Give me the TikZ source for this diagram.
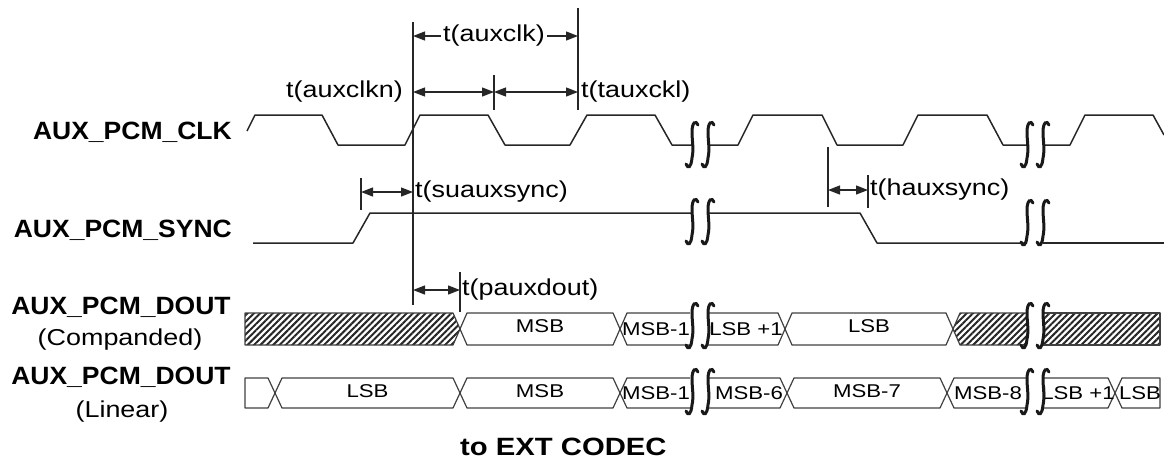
\documentclass[tikz,border=0pt]{standalone}
\usepackage{fontspec}
\setmainfont{Liberation Sans}[FakeStretch=1.06]
\newfontfamily\tfont{Liberation Sans}[FakeStretch=1.17]
\newfontfamily\bfont{Liberation Sans}[FakeStretch=1.2]
\usetikzlibrary{arrows.meta,patterns.meta,positioning}

% pair of break marks at x=#1, centre y=#2
\newcommand{\brkpair}[2]{%
  \foreach \dx in {0,16}{
    \draw[squig,shift={(#1+\dx,#2)}] (6,-20) .. controls (4,-25) and (0,-23) .. (0,-13)
      .. controls (0,-4) and (2,4) .. (0,13) .. controls (-1,23) and (-4,24) .. (-6,19);
  }}

\begin{document}
\begin{tikzpicture}[x=1pt,y=-1pt,
    tip/.tip={Triangle[length=12pt,width=9pt]},
    wave/.style={draw=black!85, line width=1.5pt, line join=round},
    vmark/.style={draw=black!85, line width=1.3pt},
    dim/.style={draw=black!85, line width=1.3pt},
    squig/.style={draw=black!90, line width=3pt, line cap=round},
    bus/.style={draw=black!75, line width=1.2pt, line join=round},
    hatch/.style={bus, pattern={Lines[angle=45,distance=4.5pt,line width=2pt]}, pattern color=black!85},
    lbl/.style={font=\fontsize{25}{28}\selectfont\bfseries, inner sep=0pt},
    sub/.style={font=\fontsize{23}{26}\selectfont\tfont, inner sep=0pt},
    ttxt/.style={font=\fontsize{23}{26}\selectfont\tfont, inner sep=2pt},
    btxt/.style={font=\fontsize{18.5}{20}\selectfont\bfont, inner sep=0pt},
  ]
  \useasboundingbox (0,0) rectangle (1164,459);

  %Signal names
  \node[lbl, anchor=east] (clkname)  at (232,132) {AUX\_PCM\_CLK};
  \node[lbl, anchor=east] (syncname) at (232,230) {AUX\_PCM\_SYNC};
  \node[lbl] (doutc) at (121,307) {AUX\_PCM\_DOUT};
  \node[sub] (compd) at (120,340) {(Companded)};
  \node[lbl] (doutl) at (121,377) {AUX\_PCM\_DOUT};
  \node[sub] (linr)  at (122,412) {(Linear)};
  \node[lbl, anchor=west, font=\fontsize{25}{28}\selectfont\tfont\bfseries] (codec) at (460,447) {to EXT CODEC};

  %Waveforms
  \draw[wave] (247,131) -- (255,115) -- (322,115) -- (338,145) -- (405,145) -- (420,115) -- (488,115)
    -- (505,145) -- (570,145) -- (587,115) -- (655,115) -- (672,145) -- (692,145);
  \draw[wave] (708,145) -- (738,145) -- (753,115) -- (822,115) -- (837,145) -- (903,145) -- (918,115)
    -- (987,115) -- (1003,145) -- (1027,145);
  \draw[wave] (1043,145) -- (1070,145) -- (1085,115) -- (1153,115) -- (1164,135);
  \draw[wave] (253,243) -- (353,243) -- (370,213) -- (692,213);
  \draw[wave] (708,213) -- (860,213) -- (877,243) -- (1027,243);
  \draw[wave] (1043,243) -- (1164,243);

  %Companded data
  \draw[hatch] (245,313) -- (453,313) -- (460,329) -- (453,345) -- (245,345) -- cycle;
  \foreach \a/\b/\txt/\nm in {460/620/MSB/cmsb, 785/953/LSB/clsb}{
    \draw[bus] (\a,329) -- (\a+7,313) -- (\b-7,313) -- (\b,329) -- (\b-7,345) -- (\a+7,345) -- cycle;
    \node[btxt] (\nm) at ({(\a+\b)/2},326) {\txt};
  }
  \draw[bus] (690,313) -- (627,313) -- (620,329) -- (627,345) -- (690,345);
  \node[btxt] (cmsbone) at (656,329) {MSB-1};
  \draw[bus] (708,313) -- (778,313) -- (785,329) -- (778,345) -- (708,345);
  \node[btxt] (clsbone) at (746,329) {LSB +1};
  \draw[hatch] (1027,313) -- (960,313) -- (953,329) -- (960,345) -- (1027,345);
  \draw[hatch] (1043,313) -- (1160,313) -- (1160,345) -- (1043,345);

  %Linear data
  \draw[bus] (245,378) -- (268,378) -- (275,393) -- (268,408) -- (245,408) -- cycle;
  \foreach \a/\b/\txt/\nm in {275/460/LSB/llsb, 460/620/MSB/lmsb, 787/947/MSB-7/lmsbseven}{
    \draw[bus] (\a,393) -- (\a+7,378) -- (\b-7,378) -- (\b,393) -- (\b-7,408) -- (\a+7,408) -- cycle;
    \node[btxt] (\nm) at ({(\a+\b)/2},391) {\txt};
  }
  \draw[bus] (690,378) -- (627,378) -- (620,393) -- (627,408) -- (690,408);
  \node[btxt] (lmsbone) at (656,393) {MSB-1};
  \draw[bus] (1027,378) -- (954,378) -- (947,393) -- (954,408) -- (1027,408);
  \node[btxt] (lmsbeight) at (988,393) {MSB-8};
  \draw[bus] (708,378) -- (780,378) -- (787,393) -- (780,408) -- (708,408);
  \node[btxt] (lmsbsix) at (749,393) {MSB-6};
  \draw[bus] (1043,378) -- (1108,378) -- (1115,393) -- (1108,408) -- (1043,408);
  \node[btxt] (llsbone) at (1078,393) {LSB +1};
  \draw[bus] (1160,378) -- (1122,378) -- (1115,393) -- (1122,408) -- (1160,408) -- cycle;
  \node[btxt] (llsbend) at (1140,393) {LSB};

  %Breaks
  \brkpair{692}{145}
  \brkpair{1027}{145}
  \brkpair{692}{222}
  \brkpair{1027}{223}
  \brkpair{692}{326}
  \brkpair{1027}{326}
  \brkpair{692}{392}
  \brkpair{1027}{392}

  %Timing marks
  \coordinate (ea) at (413,22);  \coordinate (eb) at (413,305);
  \coordinate (fa) at (578,8);   \coordinate (fb) at (578,110);
  \coordinate (ma) at (494,75);  \coordinate (mb) at (494,110);
  \coordinate (sa) at (361,178); \coordinate (sb) at (361,210);
  \coordinate (ha) at (828,147); \coordinate (hb) at (828,207);
  \coordinate (ka) at (868,175); \coordinate (kb) at (868,208);
  \coordinate (pa) at (460,272); \coordinate (pb) at (460,312);
  \coordinate (rowtwo) at (0,92);
  \foreach \u/\v in {ea/eb, fa/fb, ma/mb, sa/sb, ha/hb, ka/kb, pa/pb}
    \draw[vmark] (\u) -- (\v);

  \node[ttxt] (tclk) at (494,36) {t(auxclk)};
  \draw[dim,-tip] (tclk.west) -- (tclk.west -| ea);
  \draw[dim,-tip] (tclk.east) -- (tclk.east -| fa);

  \node[ttxt, anchor=east] (tclkh) at (405,92) {t(auxclkn)};
  \node[ttxt, anchor=west] (tclkl) at (579,92) {t(tauxckl)};
  \draw[dim,tip-tip] (ea |- rowtwo) -- (ma |- rowtwo);
  \draw[dim,tip-tip] (ma |- rowtwo) -- (fa |- rowtwo);

  \node[ttxt, anchor=west] (tsu) at (413,192) {t(suauxsync)};
  \draw[dim,tip-tip] (sa |- tsu.west) -- (tsu.west);

  \node[ttxt, anchor=west] (th) at (868,190) {t(hauxsync)};
  \draw[dim,tip-tip] (ha |- th.west) -- (th.west);

  \node[ttxt, anchor=west] (tp) at (460,290) {t(pauxdout)};
  \draw[dim,tip-tip] (ea |- tp.west) -- (tp.west);
\end{tikzpicture}
\end{document}
